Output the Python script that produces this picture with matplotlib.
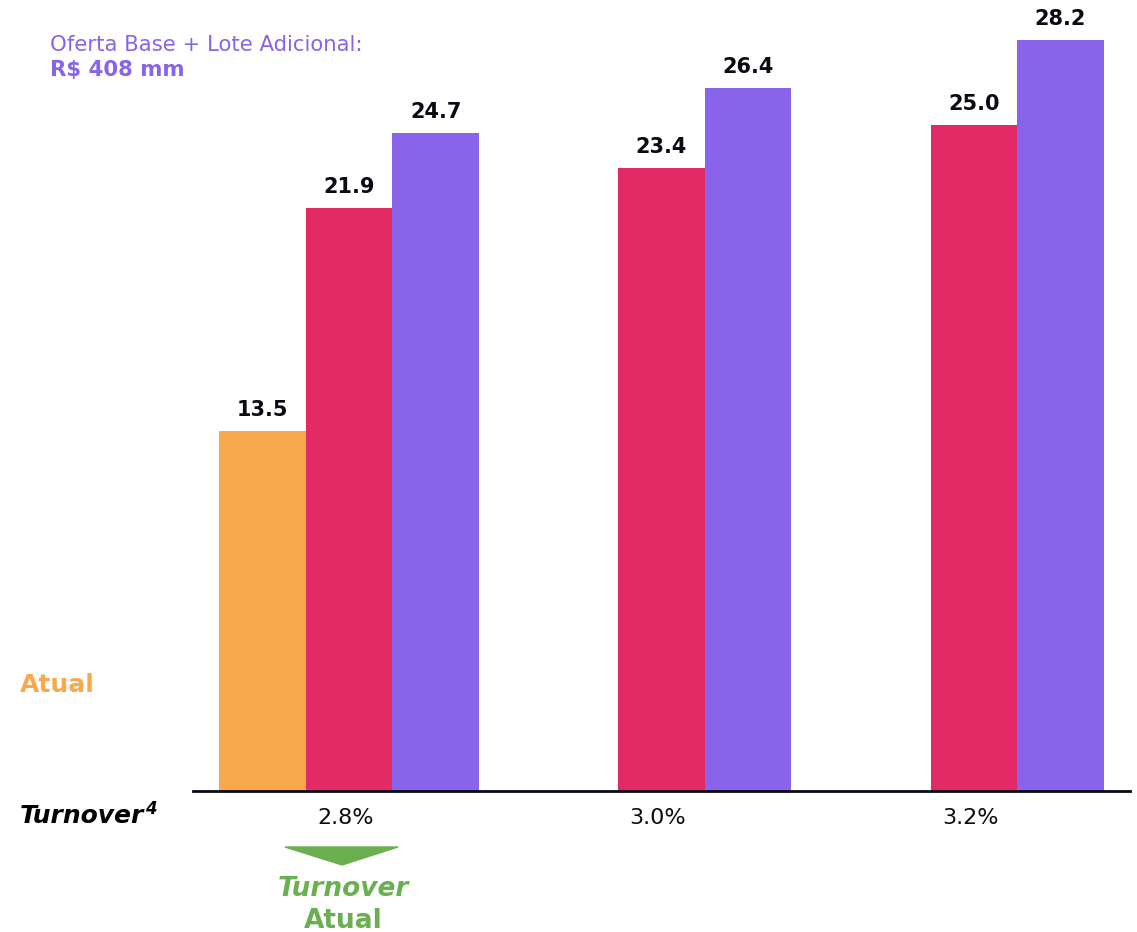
import matplotlib
matplotlib.use("Agg")
import matplotlib.pyplot as plt
from matplotlib.patches import Polygon
import numpy as np

plt.rcParams["font.family"] = ["DejaVu Sans"]

# data
categories = ["2.8%", "3.0%", "3.2%"]
atual_vals = [13.5, None, None]
base_vals = [21.9, 23.4, 25.0]
lote_vals = [24.7, 26.4, 28.2]

orange = "#F9A94B"
red = "#E22A67"
purple = "#8764E9"
green = "#6AAF50"

fig = plt.figure(figsize=(11.37, 9.32), dpi=100)
ax = fig.add_axes([0.1697, 0.1513, 0.8241, 0.8487])

x = np.arange(len(categories))
w = 0.277

def label(xpos, v):
    ax.annotate(f"{v:.1f}", (xpos, v), xytext=(0, 8), textcoords="offset points",
                ha="center", va="bottom", fontsize=15, fontweight="bold", color="#0A0A14")

for i, v in enumerate(atual_vals):
    if v is not None:
        ax.bar(x[i] - w, v, width=w, color=orange)
        label(x[i] - w, v)
ax.bar(x, base_vals, width=w, color=red)
ax.bar(x + w, lote_vals, width=w, color=purple)
for i in range(len(categories)):
    label(x[i], base_vals[i])
    label(x[i] + w, lote_vals[i])

ax.set_xlim(-0.5, 2.5)
ax.set_ylim(0, 29.7)
for s in ["top", "right", "left"]:
    ax.spines[s].set_visible(False)
ax.spines["bottom"].set_linewidth(2)
ax.spines["bottom"].set_color("#0A0A14")
ax.set_yticks([])
ax.set_xticks(x - 0.012)
ax.set_xticklabels(categories, fontsize=16, color="#0A0A14")
ax.tick_params(axis="x", length=0, pad=12)

# side texts
fig.text(50 / 1137, 1 - 45 / 932, "Oferta Base + Lote Adicional:", fontsize=15.3,
         color=purple, ha="left", va="center")
fig.text(50 / 1137, 1 - 70 / 932, "R$ 408 mm", fontsize=15.3, fontweight="bold",
         color=purple, ha="left", va="center")
fig.text(20 / 1137, 1 - 685 / 932, "Atual", fontsize=18, fontweight="bold",
         color=orange, ha="left", va="center")
tt = fig.text(20 / 1137, 1 - 816 / 932, "Turnover", fontsize=18, fontweight="bold",
              style="italic", color="black", ha="left", va="center")
bb = tt.get_window_extent(fig.canvas.get_renderer())
fig.text(bb.x1 / fig.bbox.width + 0.001, 1 - 809 / 932, "4", fontsize=12,
         fontweight="bold", style="italic", color="black", ha="left", va="center")

tri = Polygon([[285 / 1137, 1 - 847 / 932], [398 / 1137, 1 - 847 / 932],
               [342 / 1137, 1 - 865 / 932]], closed=True, color=green,
              transform=fig.transFigure)
fig.patches.append(tri)
fig.text(343 / 1137, 1 - 889 / 932, "Turnover", fontsize=19, fontweight="bold",
         style="italic", color=green, ha="center", va="center")
fig.text(343 / 1137, 1 - 921 / 932, "Atual", fontsize=19, fontweight="bold",
         color=green, ha="center", va="center")

fig.savefig("out.png", dpi=100)
